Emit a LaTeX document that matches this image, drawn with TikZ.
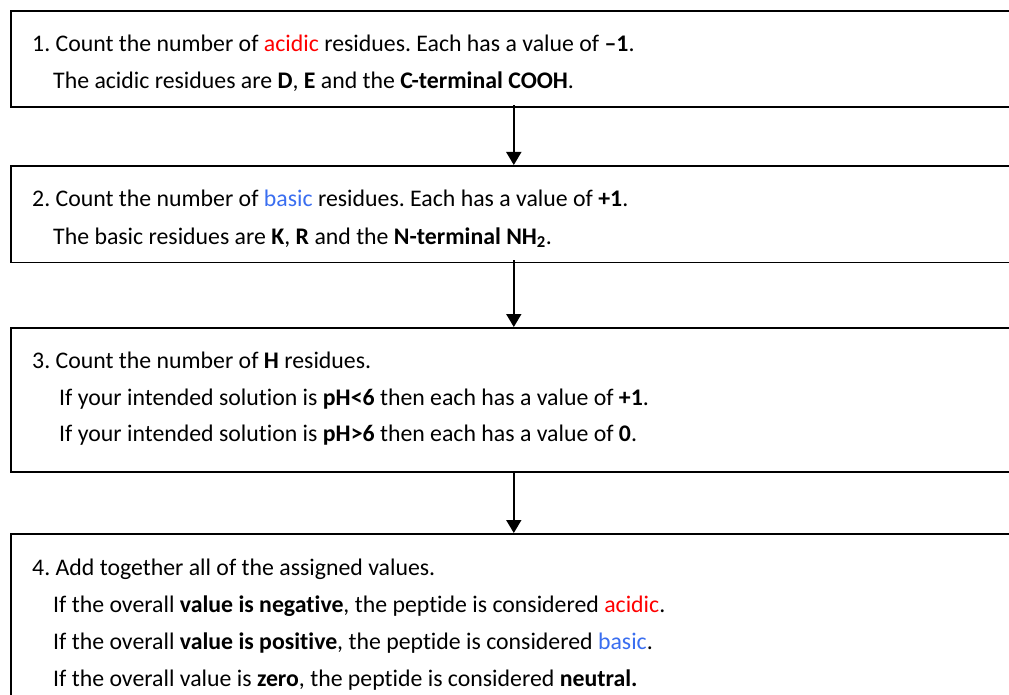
\documentclass[tikz,border=0pt]{standalone}
\usepackage{fontspec}
\setmainfont[Ligatures={NoCommon}]{Carlito}
\usetikzlibrary{arrows.meta}
\definecolor{acidred}{RGB}{255,0,0}
\definecolor{baseblue}{RGB}{58,110,240}
\frenchspacing
\begin{document}
\begin{tikzpicture}[x=1pt,y=-1pt,
  stepbox/.style={draw=black, line width=1.6pt, rectangle, inner sep=0pt, anchor=north west, minimum width=1006pt},
  txt/.style={anchor=base west, inner sep=0pt, font=\fontsize{23.8}{28}\selectfont},
  flow/.style={line width=1.6pt, -{Triangle[width=15pt,length=13pt]}}]
\useasboundingbox (0,0) rectangle (1009,695);
\node[stepbox, minimum height=96pt] (b1) at (10,10.5) {};
\node[stepbox, minimum height=96.5pt] (b2) at (10,165) {};
\node[stepbox, minimum height=144pt] (b3) at (10,327) {};
\node[stepbox, minimum height=200pt] (b4) at (10,533) {};

\node[txt] (t1a) at (32,52) {1. Count the number of \textcolor{acidred}{acidic} residues. Each has a value of \textbf{–1}.};
\node[txt] (t1b) at (53,89) {The acidic residues are \textbf{D}, \textbf{E} and the \textbf{C-terminal COOH}.};

\node[txt] (t2a) at (32,207) {2. Count the number of \textcolor{baseblue}{basic} residues. Each has a value of \textbf{+1}.};
\node[txt] (t2b) at (53,244) {The basic residues are \textbf{K}, \textbf{R} and the \textbf{N-terminal NH\textsubscript{2}}.};

\node[txt] (t3a) at (32,368) {3. Count the number of \textbf{H} residues.};
\node[txt] (t3b) at (59,405) {If your intended solution is \textbf{pH<6} then each has a value of \textbf{+1}.};
\node[txt] (t3c) at (59,441) {If your intended solution is \textbf{pH>6} then each has a value of \textbf{0}.};

\node[txt] (t4a) at (32,575) {4. Add together all of the assigned values.};
\node[txt] (t4b) at (53,612) {If the overall \textbf{value is negative}, the peptide is considered \textcolor{acidred}{acidic}.};
\node[txt] (t4c) at (53,649) {If the overall \textbf{value is positive}, the peptide is considered \textcolor{baseblue}{basic}.};
\node[txt] (t4d) at (53,686) {If the overall value is \textbf{zero}, the peptide is considered \textbf{neutral.}};

\draw[flow] ([yshift=3pt]b1.south) -- (b2.north);
\draw[flow] ([yshift=3pt]b2.south) -- (b3.north);
\draw[flow] (b3.south) -- (b4.north);
\end{tikzpicture}
\end{document}
